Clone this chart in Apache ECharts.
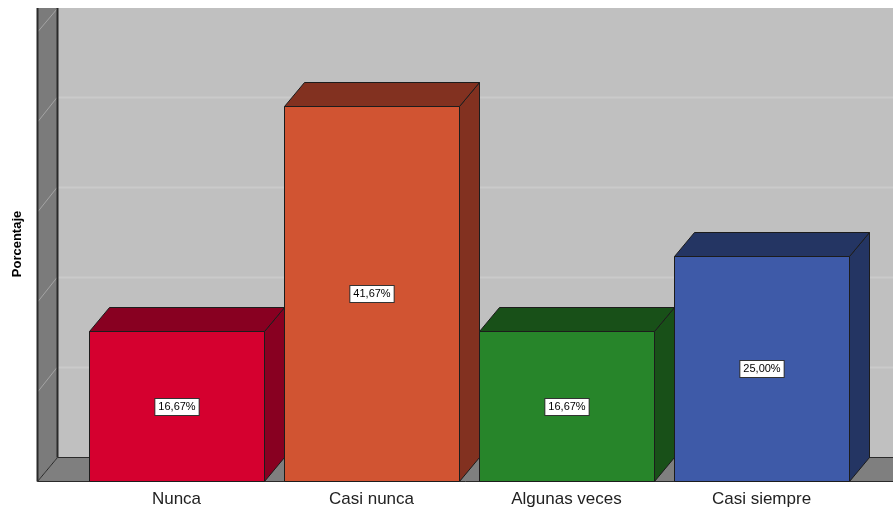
<!DOCTYPE html>
<html>
<head>
<meta charset="utf-8">
<title>Porcentaje</title>
<script src="https://cdn.jsdelivr.net/npm/echarts@6/dist/echarts.min.js"></script>
<style>
  html, body { margin: 0; padding: 0; background: #ffffff; }
  #chart { width: 893px; height: 508px; }
</style>
</head>
<body>
<div id="chart"></div>
<script>
// Category names, percentages and bar colours
const categories = ['Nunca', 'Casi nunca', 'Algunas veces', 'Casi siempre'];
const values = [16.67, 41.67, 16.67, 25.00];
const frontColors = ['#D5002F', '#D15432', '#27852A', '#3E5AA8'];
const shadeColors = ['#880021', '#823120', '#185018', '#243563'];
// Value axis range and the gridline positions on the walls
const yMin = 0;
const yMax = 50;
const gridTicks = [10, 20, 30, 40, 50];

// Depth offset of the 3D box (pixels)
const DX = 20;
const DY = -24;
const BAR_RATIO = 0.9;
const EDGE = '#1c1c1c';

const chart = echarts.init(document.getElementById('chart'), null, { renderer: 'canvas' });

function fmt(v) {
  return v.toFixed(2).replace('.', ',') + '%';
}

function renderBar(params, api) {
  const idx = api.value(0);
  const v = api.value(1);
  const top = api.coord([idx, v]);
  const base = api.coord([idx, 0]);
  const w = api.size([1, 0])[0] * BAR_RATIO;
  const xl = Math.round(top[0] - w / 2) + 0.5;
  const xr = Math.round(top[0] + w / 2) + 0.5;
  const yt = Math.round(top[1]) + 0.5;
  const yb = Math.round(base[1]) + 0.5;
  const i = params.dataIndex;
  const lineStyle = { stroke: EDGE, lineWidth: 1 };
  return {
    type: 'group',
    children: [
      {
        type: 'polygon',
        shape: { points: [[xr, yb], [xr, yt], [xr + DX, yt + DY], [xr + DX, yb + DY]] },
        style: Object.assign({ fill: shadeColors[i] }, lineStyle)
      },
      {
        type: 'polygon',
        shape: { points: [[xl, yt], [xl + DX, yt + DY], [xr + DX, yt + DY], [xr, yt]] },
        style: Object.assign({ fill: shadeColors[i] }, lineStyle)
      },
      {
        type: 'rect',
        shape: { x: xl, y: yt, width: xr - xl, height: yb - yt },
        style: Object.assign({ fill: frontColors[i] }, lineStyle)
      },
      {
        type: 'text',
        x: Math.round((xl + xr) / 2),
        y: Math.round((yt + yb) / 2),
        style: {
          text: fmt(v),
          fill: '#000000',
          font: '11px "Liberation Sans", Arial, sans-serif',
          align: 'center',
          verticalAlign: 'middle',
          backgroundColor: '#ffffff',
          borderColor: '#333333',
          borderWidth: 1,
          padding: [3, 3, 2, 3]
        }
      }
    ]
  };
}

chart.setOption({
  backgroundColor: '#ffffff',
  animation: false,
  grid: { left: 79, right: 34, top: 31, bottom: 27, containLabel: false },
  xAxis: {
    type: 'category',
    data: categories,
    axisLine: { show: false },
    axisTick: { show: false },
    splitLine: { show: false },
    axisLabel: {
      color: '#222222',
      fontSize: 17,
      fontFamily: '"Liberation Sans", Arial, sans-serif',
      margin: 10
    }
  },
  yAxis: {
    type: 'value',
    min: yMin,
    max: yMax,
    interval: 10,
    axisLine: { show: false },
    axisTick: { show: false },
    axisLabel: { show: false },
    splitLine: { show: false }
  },
  series: [{
    type: 'custom',
    z: 10,
    renderItem: renderBar,
    encode: { x: 0, y: 1 },
    data: values.map((v, i) => [i, v])
  }]
});

// Walls, floor and wall gridlines, placed from the value axis
function drawFrame() {
  const W = chart.getWidth();
  const y0 = chart.convertToPixel({ yAxisIndex: 0 }, 0);
  const wallL = 37, wallR = wallL + DX;
  const topY = 8;
  const floorFront = Math.round(y0) + 0.5;
  const floorBack = floorFront + DY;
  const els = [];
  // back wall
  els.push({
    type: 'rect', z: 1,
    shape: { x: wallR, y: topY, width: W - wallR, height: floorBack - topY },
    style: { fill: '#C0C0C0' }
  });
  // left side wall
  els.push({
    type: 'polygon', z: 2,
    shape: { points: [[wallL + 0.5, topY], [wallR + 0.5, topY], [wallR + 0.5, floorBack], [wallL + 0.5, floorFront]] },
    style: { fill: '#7B7B7B' }
  });
  gridTicks.forEach(t => {
    const yf = Math.round(chart.convertToPixel({ yAxisIndex: 0 }, t)) + 0.5;
    const yb = yf + DY;
    if (yb > topY + 1) {
      els.push({
        type: 'line', z: 1,
        shape: { x1: wallR + 1, y1: yb, x2: W, y2: yb },
        style: { stroke: '#CACACA', lineWidth: 2 }
      });
    }
    els.push({
      type: 'line', z: 3,
      shape: { x1: wallL + 1, y1: yf, x2: wallR, y2: Math.max(yb, topY + 1) },
      style: { stroke: '#A4A4A4', lineWidth: 1 }
    });
  });
  // wall edges
  els.push({
    type: 'line', z: 4,
    shape: { x1: wallL + 0.5, y1: topY, x2: wallL + 0.5, y2: floorFront },
    style: { stroke: '#2a2a2a', lineWidth: 2 }
  });
  els.push({
    type: 'line', z: 4,
    shape: { x1: wallR + 0.5, y1: topY, x2: wallR + 0.5, y2: floorBack },
    style: { stroke: '#2a2a2a', lineWidth: 2 }
  });
  // floor
  els.push({
    type: 'polygon', z: 4,
    shape: { points: [[wallL + 0.5, floorFront], [wallR + 0.5, floorBack], [W + 2, floorBack], [W + 2, floorFront]] },
    style: { fill: '#7F7F7F', stroke: '#2a2a2a', lineWidth: 1 }
  });
  // axis title
  els.push({
    type: 'text', z: 5,
    x: 17, y: 244, rotation: Math.PI / 2,
    style: {
      text: 'Porcentaje',
      fill: '#000000',
      font: 'bold 13px "Liberation Sans", Arial, sans-serif',
      align: 'center',
      verticalAlign: 'middle'
    }
  });
  chart.setOption({ graphic: { elements: els } });
}

drawFrame();
</script>
</body>
</html>
